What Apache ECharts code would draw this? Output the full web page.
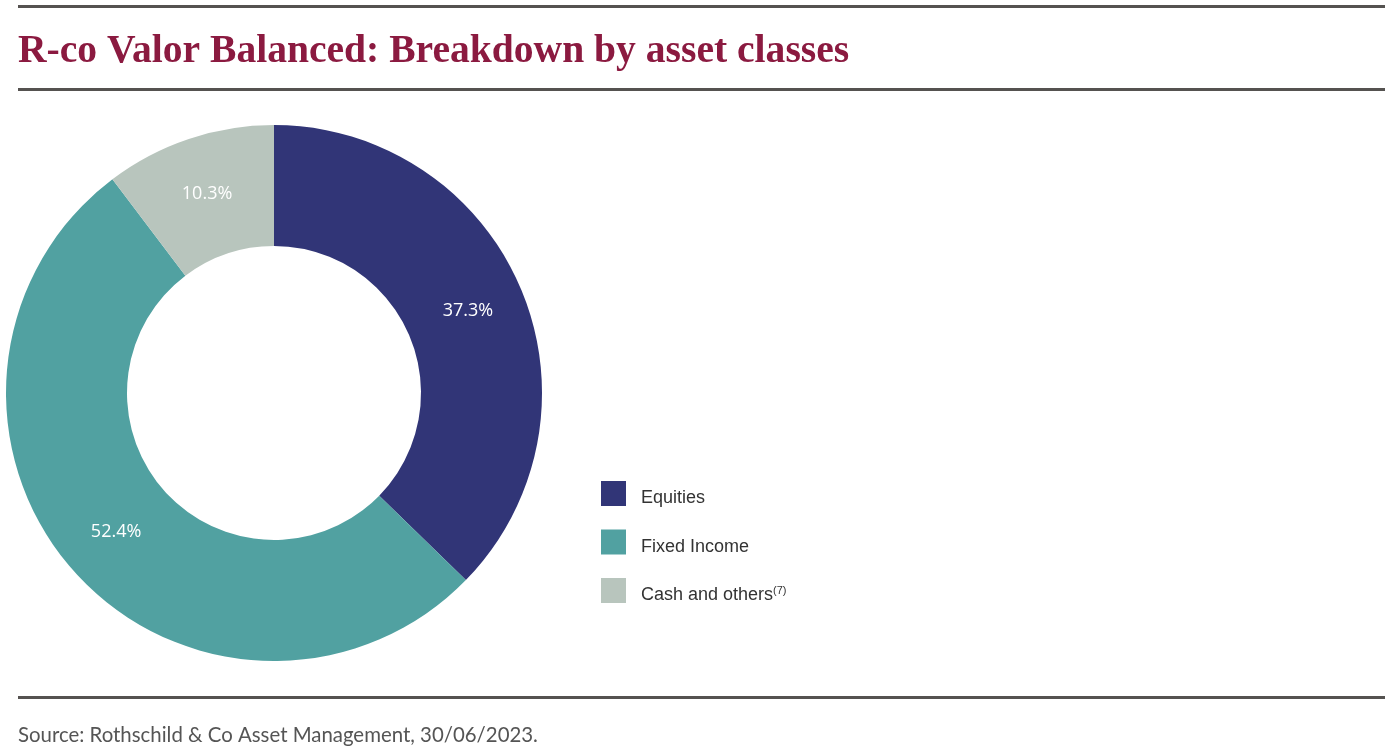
<!DOCTYPE html>
<html><head><meta charset="utf-8">
<script src="https://cdn.jsdelivr.net/npm/echarts@6/dist/echarts.min.js"></script>
<style>html,body{margin:0;padding:0;background:#fff;}#c{width:1385px;height:752px;}</style>
</head><body><div id="c"></div>
<script>
const categories = ['Equities', 'Fixed Income', 'Cash and others'];
const values = [37.3, 52.4, 10.3];
const colors = ['#313577', '#51A1A1', '#B8C5BD'];

const chart = echarts.init(document.getElementById('c'), null, {renderer: 'canvas'});
chart.setOption({
  animation: false,
  backgroundColor: '#ffffff',
  graphic: [
    {type: 'rect', shape: {x: 18, y: 5, width: 1367, height: 3}, style: {fill: '#555250'}},
    {type: 'rect', shape: {x: 18, y: 88, width: 1367, height: 3}, style: {fill: '#555250'}},
    {type: 'rect', shape: {x: 18, y: 696, width: 1367, height: 3}, style: {fill: '#555250'}},
    {type: 'text', left: 18, top: 32, style: {text: 'R-co Valor Balanced: Breakdown by asset classes', fill: '#8B1A40', font: 'bold 39.6px "Liberation Serif"'}},
    {type: 'text', left: 18, top: 725, style: {text: 'Source: Rothschild & Co Asset Management, 30/06/2023.', fill: '#555555', font: '20.4px Lato'}}
  ],
  legend: {
    orient: 'vertical',
    left: 596,
    top: 476,
    itemWidth: 25,
    itemHeight: 25,
    itemGap: 22,
    icon: 'rect',
    data: categories,
    selectedMode: false,
    formatter: function (n) { return n === 'Cash and others' ? n + '{sup|(7)}' : n; },
    textStyle: {
      fontFamily: 'Liberation Sans',
      fontSize: 18,
      color: '#333333',
      padding: [10, 0, 0, 10],
      rich: {sup: {fontSize: 11, fontFamily: 'Liberation Sans', color: '#333333', padding: [0, 0, 10, 0]}}
    }
  },
  series: [{
    type: 'pie',
    center: [274, 393],
    radius: [147, 268],
    startAngle: 90,
    clockwise: true,
    avoidLabelOverlap: false,
    silent: true,
    label: {
      show: true,
      position: 'inside',
      color: '#ffffff',
      fontFamily: 'Open Sans',
      fontSize: 18,
      formatter: function (p) { return p.value.toFixed(1) + '%'; }
    },
    labelLine: {show: false},
    itemStyle: {borderWidth: 0},
    data: categories.map((n, i) => ({name: n, value: values[i], itemStyle: {color: colors[i]}}))
  }]
});
</script></body></html>
